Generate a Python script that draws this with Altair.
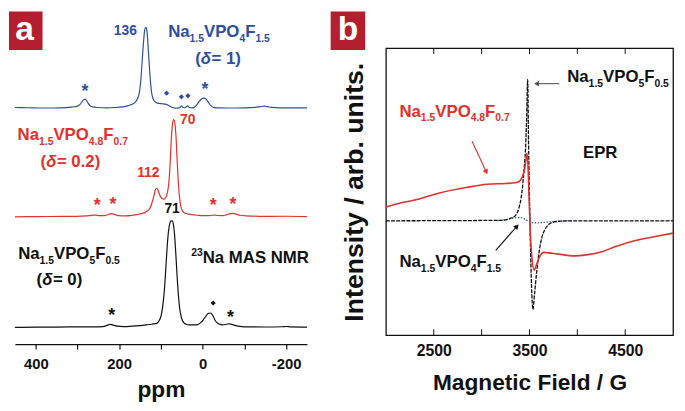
import math
import altair as alt
import pandas as pd

# ---------------- Panel a : 23Na MAS NMR (ppm, intensity above own baseline) ----------------
nmr_black = [(450, 0), (400, 0.3), (350, 0.3), (300, 0.5), (260, 0.5), (240, 0.8), (232, 1.5), (226, 2.5),
             (222, 3), (218, 2.8), (212, 2), (205, 1.2), (190, 0.8), (170, 1.2), (150, 1.8), (135, 2.5),
             (122, 3.2), (114, 3.8), (110, 4), (104, 7), (99, 13), (95, 24), (91, 42), (88, 62), (85, 82),
             (82, 97), (79, 105), (76, 108), (73, 108), (70, 104), (67, 92), (64, 72), (61, 50), (58, 32),
             (55, 19), (51, 10), (46, 5), (40, 3.2), (32, 2.5), (24, 2.5), (16, 2.6), (10, 3.2), (4, 5),
             (-2, 8), (-8, 11.5), (-13, 14), (-18, 14.6), (-22, 13.5), (-26, 10.5), (-30, 7), (-35, 4.5),
             (-40, 3.3), (-47, 2.6), (-54, 2.9), (-60, 3.4), (-65, 3.5), (-70, 3), (-77, 2), (-88, 1),
             (-100, 0.5), (-150, 0.4), (-190, 0.6), (-200, 0.9), (-210, 0.5), (-250, 0.3)]
nmr_red = [(450, 0), (400, 0.3), (330, 0.5), (290, 0.8), (272, 1.2), (262, 1.7), (256, 1.8), (248, 1.2),
           (236, 1.2), (226, 2.4), (219, 3.2), (212, 2.5), (202, 1.3), (185, 1), (170, 1.5), (155, 2.5),
           (145, 3.5), (136, 5), (130, 7), (125, 10), (121, 15), (117, 21), (114, 26.5), (111, 29),
           (108, 28), (105, 24.5), (101, 20.5), (97, 18.5), (93, 18), (90, 18.5), (87, 21), (85, 24),
           (82, 31), (80, 40), (78, 54), (75, 80), (72, 95), (69.5, 98.5), (67, 96), (64, 82), (61, 56),
           (58, 33), (55, 18), (52, 10), (48, 5.8), (43, 4), (36, 3), (26, 2.2), (12, 1.6), (0, 1.3),
           (-14, 1.3), (-24, 1.6), (-29, 1.9), (-35, 1.4), (-48, 1.3), (-58, 2.2), (-66, 3.2), (-73, 3.5),
           (-80, 2.8), (-90, 1.6), (-105, 1), (-150, 0.5), (-200, 0.6), (-250, 0.3)]
nmr_blue = [(450, 0.8), (420, 0.6), (380, 0.3), (340, 0.5), (315, 1.2), (300, 2.2), (294, 4), (289, 6.8),
            (285, 8.8), (282, 9.3), (279, 8.3), (275, 5.5), (270, 2.8), (264, 1.4), (252, 0.8), (230, 0.5),
            (210, 0.8), (192, 1.5), (178, 2.8), (168, 4.3), (160, 7), (155, 11), (151, 18), (148, 30),
            (145, 48), (142, 66), (139, 79), (136.5, 82), (134.5, 81), (132, 71), (129.5, 54), (127, 38),
            (124.5, 24), (122, 15), (119, 10), (115, 7), (110, 5.5), (104, 5), (97, 4.6), (91, 4.3),
            (87, 4), (83, 3.2), (77, 1.8), (70, 0.6), (64, 0.1), (58, 0.4), (55, 0.8), (51, 2.4), (47, 0.8),
            (43, 0.6), (39, 1.5), (36, 2.5), (32, 0.8), (25, 0.4), (20, 1.2), (15, 3), (9, 6.5), (3, 9.5),
            (-3, 10.3), (-8, 9.5), (-13, 6.5), (-19, 3), (-26, 1), (-35, 0.4), (-60, 0.3), (-100, 0.5),
            (-125, 0.9), (-138, 1.6), (-147, 2.2), (-155, 1.8), (-165, 0.9), (-185, 0.5), (-220, 0.5),
            (-250, 0.5)]
nmr_offset = {"black": 0, "red": 112, "blue": 222}

nmr_peaks = [("136", 185.4, 296, "blue"), ("70", 35.7, 206, "red"),
             ("112", 130.3, 152, "red"), ("71", 73.3, 116.3, "black")]
nmr_asterisks = [(282.1, 244, "blue"), (-5.7, 246.3, "blue"), (253, 128, "red"), (215.2, 129.7, "red"),
                 (-25.3, 128, "red"), (-72.6, 129.7, "red"), (218.2, 17, "black"), (-66.3, 15.3, "black")]
nmr_diamonds = [(86.5, 237.3, "blue"), (51, 233.7, "blue"), (35.4, 234.7, "blue"), (-25.3, 24.7, "black")]
a_ticks = [400, 300, 200, 100, 0, -100, -200]

# ---------------- Panel b : EPR (G, intensity) ----------------
epr_red = [(2000, 0.14), (2150, 0.18), (2300, 0.21), (2550, 0.28), (2850, 0.34), (3060, 0.37),
           (3250, 0.378), (3350, 0.385), (3395, 0.40), (3423, 0.44), (3448, 0.52), (3464, 0.62),
           (3474, 0.683), (3485, 0.55), (3495, 0.25), (3510, -0.15), (3526, -0.38), (3549, -0.50),
           (3567, -0.46), (3598, -0.38), (3646, -0.32), (3701, -0.325), (3784, -0.335), (3969, -0.355),
           (4093, -0.345), (4265, -0.31), (4402, -0.26), (4608, -0.20), (4814, -0.16), (5000, -0.125)]
epr_black = [(2000, 0), (3216, 0.005), (3299, 0.025), (3351, 0.05), (3389, 0.13), (3412, 0.23),
             (3428, 0.35), (3443, 0.52), (3457, 0.70), (3469, 1.0), (3481, 1.43), (3490, 0.80),
             (3498, 0.35), (3509, -0.20), (3521, -0.65), (3536, -0.90), (3552, -0.75), (3577, -0.50),
             (3603, -0.30), (3629, -0.17), (3660, -0.09), (3698, -0.04), (3742, -0.015), (3835, -0.003),
             (3990, 0), (5000, 0)]
epr_blue = [(3165, 0.002), (3268, 0.015), (3340, 0.03), (3402, 0.033), (3443, 0.022), (3474, 0.005),
            (3515, -0.013), (3557, -0.02), (3608, -0.02), (3660, -0.015), (3732, -0.008), (3835, -0.002),
            (3938, 0)]
b_tick_marks = [2500, 3000, 3500, 4000, 4500]
b_tick_labels = [2500, 3500, 4500]
epr_arrows = [("red", (2900, 0.807), (3061.8, 0.467)),
              ("black", (3147.4, -0.30), (3388.6, -0.033)),
              ("grey", (3811.3, 1.39), (3543.3, 1.39))]

# ---------------- styles ----------------
FONT = "Liberation Sans"
BLUE, RED, BLACK, GREY, BOX = "#2E4F9C", "#E2312C", "#111111", "#555555", "#B31F2E"
COL = {"blue": BLUE, "red": RED, "black": BLACK, "grey": GREY}
MAIN, SUB, SUB_DY, SUP_DY = 17, 10.5, 5, -6.5
NBSP = "\u00a0"
W = {' ': 278, NBSP: 278, '(': 333, ')': 333, '*': 389, '.': 278, '/': 278, '-': 333, '=': 584,
     'A': 722, 'E': 667, 'F': 611, 'M': 833, 'N': 722, 'O': 778, 'P': 667, 'R': 722, 'S': 667,
     'V': 667, 'a': 556, 'δ': 640}

A_W, A_H, A_X, A_Y = 296, 300, (450, -250), (-17, 283)
B_W, B_H, B_X, B_Y = 291, 291, (2000, 5000), (-1.16, 1.75)


def a_dx(px): return -px * (A_X[0] - A_X[1]) / A_W
def a_dy(px): return -px * (A_Y[1] - A_Y[0]) / A_H
def b_dx(px): return px * (B_X[1] - B_X[0]) / B_W
def b_dy(px): return -px * (B_Y[1] - B_Y[0]) / B_H


def formula(o, f):
    return [("Na", "n"), ("1.5", "sub"), ("VPO", "n"), (o, "sub"), ("F", "n"), (f, "sub")]


def delta(v):
    return [("(", "n"), ("δ", "it"), (NBSP + "= " + v + ")", "n")]


def seg_rows(x0, y0, color, segs, dxf, dyf):
    rows, cur = [], 0.0
    for txt, kind in segs:
        size = SUB if kind in ("sub", "sup") else MAIN
        off = SUB_DY if kind == "sub" else (SUP_DY if kind == "sup" else 0)
        rows.append({"x": x0 + dxf(cur), "y": y0 + dyf(off), "t": txt, "size": size,
                     "c": COL[color], "it": kind == "it"})
        cur += sum(W.get(ch, 556) for ch in txt) * size / 1000.0
    return rows


a_labels = [(82.7, 294.5, "blue", formula("4", "1.5")), (17.9, 266.5, "blue", delta("1")),
            (443.6, 189.8, "red", formula("4.8", "0.7")), (388.5, 163, "red", delta("0.2")),
            (442.2, 69.1, "black", formula("5", "0.5")), (398, 43.3, "black", delta("0")),
            (27.4, 65.5, "black", [("23", "sup"), ("Na MAS NMR", "n")])]
b_labels = [(2141.2, 1.057, "red", formula("4.8", "0.7")), (3893.8, 1.41, "black", formula("5", "0.5")),
            (2141.2, -0.472, "black", formula("4", "1.5")), (4058.7, 0.633, "black", [("EPR", "n")])]

# ---------------- panel a ----------------
xa = alt.X("x:Q", title="ppm",
           scale=alt.Scale(domain=[A_X[1], A_X[0]], reverse=True, nice=False, zero=False),
           axis=alt.Axis(values=a_ticks, labelExpr="datum.value % 200 == 0 ? '' + datum.value : ''",
                         grid=False, domainColor=BLACK, domainWidth=1.3, tickColor=BLACK, tickWidth=1.2,
                         tickSize=5, labelFont=FONT, labelFontSize=15, labelFontWeight="bold",
                         labelColor=BLACK, labelPadding=8, titleFont=FONT, titleFontSize=23,
                         titleFontWeight="bold", titleColor=BLACK, titlePadding=7))
ya = alt.Y("y:Q", scale=alt.Scale(domain=list(A_Y), nice=False, zero=False), axis=None)

spec_rows = []
for name, pts in (("black", nmr_black), ("red", nmr_red), ("blue", nmr_blue)):
    for p, h in pts:
        spec_rows.append({"x": p, "y": h + nmr_offset[name], "s": name})
a_lines = alt.Chart(pd.DataFrame(spec_rows)).mark_line(strokeWidth=1.2, interpolate="monotone").encode(
    x=xa, y=ya, detail="s:N",
    color=alt.Color("s:N", scale=alt.Scale(domain=["black", "red", "blue"], range=[BLACK, RED, BLUE]),
                    legend=None))

a_txt_rows = []
for x0, y0, c, segs in a_labels:
    a_txt_rows += seg_rows(x0, y0, c, segs, a_dx, a_dy)
a_txt = pd.DataFrame(a_txt_rows)


def text_layers(df, xe, ye):
    base = dict(font=FONT, fontWeight="bold", align="left", baseline="alphabetic")
    enc = dict(x=xe, y=ye, text="t:N", size=alt.Size("size:Q", scale=None), color=alt.Color("c:N", scale=None))
    n = alt.Chart(df[~df["it"]]).mark_text(**base).encode(**enc)
    i = alt.Chart(df[df["it"]]).mark_text(fontStyle="italic", **base).encode(**enc)
    return [n, i]


peaks_df = pd.DataFrame([{"t": t, "x": x, "y": y, "c": COL[c]} for t, x, y, c in nmr_peaks])
a_peaks = alt.Chart(peaks_df).mark_text(font=FONT, fontWeight="bold", fontSize=14, align="center",
                                        baseline="alphabetic").encode(
    x=xa, y=ya, text="t:N", color=alt.Color("c:N", scale=None))
ast_df = pd.DataFrame([{"x": x, "y": y, "c": COL[c], "t": "*"} for x, y, c in nmr_asterisks])
a_ast = alt.Chart(ast_df).mark_text(font=FONT, fontWeight="bold", fontSize=18, align="center",
                                    baseline="alphabetic", dy=10.5).encode(
    x=xa, y=ya, text="t:N", color=alt.Color("c:N", scale=None))
dia_df = pd.DataFrame([{"x": x, "y": y, "c": COL[c]} for x, y, c in nmr_diamonds])
a_dia = alt.Chart(dia_df).mark_point(shape="diamond", filled=True, size=28, opacity=1).encode(
    x=xa, y=ya, color=alt.Color("c:N", scale=None))

one = pd.DataFrame({"k": [0]})
a_box = alt.Chart(one).mark_rect(color=BOX).encode(
    x=alt.value(-6), x2=alt.value(28), y=alt.value(-37), y2=alt.value(2))
a_let = alt.Chart(one).mark_text(text="a", font=FONT, fontWeight="bold", fontSize=34, color="white",
                                 align="center", baseline="alphabetic").encode(
    x=alt.value(9.7), y=alt.value(-8.3))

panel_a = alt.layer(a_lines, a_peaks, a_ast, a_dia, *text_layers(a_txt, xa, ya), a_box, a_let).properties(
    width=A_W, height=A_H, view=alt.ViewBackground(stroke="transparent"))

# ---------------- panel b ----------------
xb = alt.X("x:Q", title="Magnetic Field / G",
           scale=alt.Scale(domain=list(B_X), nice=False, zero=False),
           axis=alt.Axis(values=b_tick_labels, format="d", ticks=False, tickSize=0, domain=False, grid=False,
                         labelFont=FONT, labelFontSize=16, labelFontWeight="bold", labelColor=BLACK,
                         labelPadding=8, titleFont=FONT, titleFontSize=23, titleFontWeight="bold",
                         titleColor=BLACK, titlePadding=13))
yb = alt.Y("y:Q", title="Intensity / arb. units.",
           scale=alt.Scale(domain=list(B_Y), nice=False, zero=False),
           axis=alt.Axis(labels=False, ticks=False, tickSize=0, domain=False, grid=False, titleFont=FONT,
                         titleFontSize=27, titleFontWeight="bold", titleColor=BLACK, titlePadding=18))

tick_df = pd.DataFrame({"x": b_tick_marks})
b_top = alt.Chart(tick_df).mark_rule(color=BLACK, strokeWidth=1).encode(x=xb, y=alt.value(0), y2=alt.value(6))
b_bot = alt.Chart(tick_df).mark_rule(color=BLACK, strokeWidth=1).encode(
    x=xb, y=alt.value(B_H), y2=alt.value(B_H - 6))


def series(pts):
    return pd.DataFrame([{"x": g, "y": v} for g, v in pts])


b_blue = alt.Chart(series(epr_blue)).mark_line(color="#3B5BB0", strokeWidth=1.3, strokeDash=[1.5, 1.5],
                                               interpolate="monotone").encode(x=xb, y=yb)
b_black = alt.Chart(series(epr_black)).mark_line(color=BLACK, strokeWidth=1.3, strokeDash=[4, 1.2],
                                                 interpolate="monotone").encode(x=xb, y=yb)
b_red = alt.Chart(series(epr_red)).mark_line(color=RED, strokeWidth=1.6, interpolate="monotone").encode(
    x=xb, y=yb)

arr_rows, head_rows = [], []
for i, (c, (x0, y0), (x1, y1)) in enumerate(epr_arrows):
    dxp = (x1 - x0) * B_W / (B_X[1] - B_X[0])
    dyp = -(y1 - y0) * B_H / (B_Y[1] - B_Y[0])
    L = math.hypot(dxp, dyp)
    ux, uy = dxp / L, dyp / L
    hx, hy = x1 - b_dx(3 * ux), y1 - b_dy(3 * uy)
    ang = math.degrees(math.atan2(dxp, -dyp)) % 360
    arr_rows += [{"x": x0, "y": y0, "a": i, "c": COL[c], "o": 0}, {"x": hx, "y": hy, "a": i, "c": COL[c], "o": 1}]
    head_rows.append({"x": hx, "y": hy, "c": COL[c], "ang": ang})
b_arr = alt.Chart(pd.DataFrame(arr_rows)).mark_line(strokeWidth=1.1).encode(
    x=xb, y=yb, detail="a:N", order="o:Q", color=alt.Color("c:N", scale=None))
b_head = alt.Chart(pd.DataFrame(head_rows)).mark_point(shape="triangle-up", filled=True, size=34, opacity=1).encode(
    x=xb, y=yb, angle=alt.Angle("ang:Q", scale=None), color=alt.Color("c:N", scale=None))

b_txt_rows = []
for x0, y0, c, segs in b_labels:
    b_txt_rows += seg_rows(x0, y0, c, segs, b_dx, b_dy)
b_txt = pd.DataFrame(b_txt_rows)
b_txt_n = alt.Chart(b_txt).mark_text(font=FONT, fontWeight="bold", align="left", baseline="alphabetic").encode(
    x=xb, y=yb, text="t:N", size=alt.Size("size:Q", scale=None), color=alt.Color("c:N", scale=None))

b_box = alt.Chart(one).mark_rect(color=BOX).encode(
    x=alt.value(-56), x2=alt.value(-21), y=alt.value(-37), y2=alt.value(2))
b_let = alt.Chart(one).mark_text(text="b", font=FONT, fontWeight="bold", fontSize=34, color="white",
                                 align="center", baseline="alphabetic").encode(
    x=alt.value(-38.5), y=alt.value(-8.3))

panel_b = alt.layer(b_top, b_bot, b_blue, b_black, b_red, b_arr, b_head, b_txt_n, b_box, b_let).properties(
    width=B_W, height=B_H, view=alt.ViewBackground(stroke=BLACK, strokeWidth=1.3))

chart = alt.hconcat(panel_a, panel_b, spacing=20).properties(padding=0).configure_view(stroke="transparent")
chart.save("out.html", embed_options={"renderer": "svg", "actions": False})
